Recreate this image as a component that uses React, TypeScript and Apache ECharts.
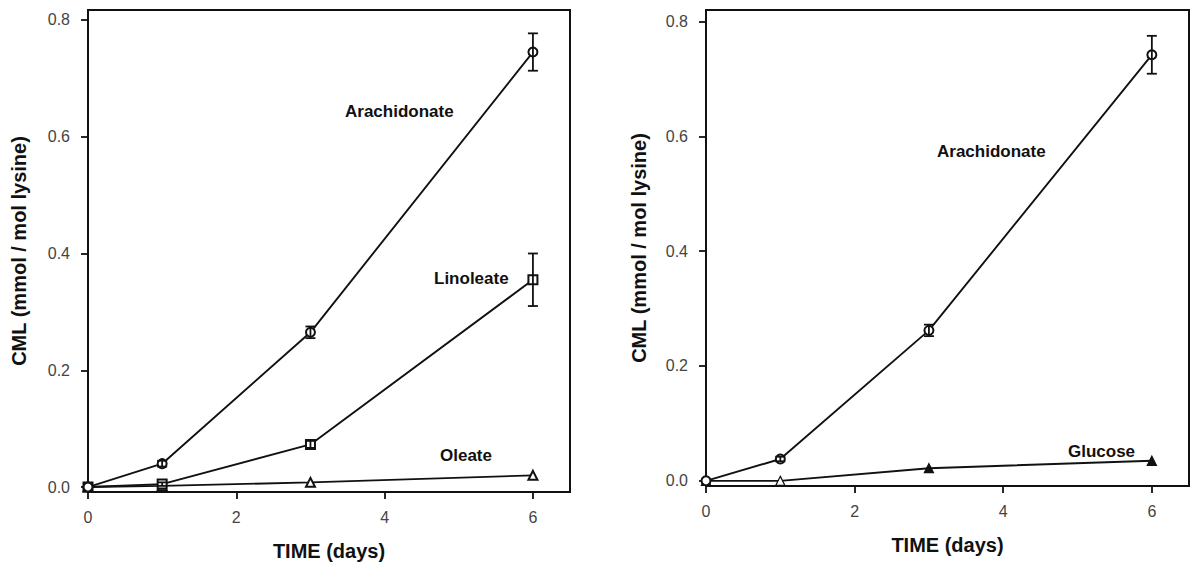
import React, { useEffect, useRef } from "react";
import * as echarts from "echarts";

const days = [0, 1, 3, 6];
const xTicks = [0, 2, 4, 6];
const yTicks = [0, 0.2, 0.4, 0.6, 0.8];

const leftArach = [0, 0.04, 0.265, 0.745];
const leftArachErr = [0, 0.005, 0.01, 0.032];
const leftLino = [0, 0.005, 0.073, 0.355];
const leftLinoErr = [0, 0.003, 0.006, 0.045];
const leftOle = [0, 0.002, 0.008, 0.02];

const rightArach = [0, 0.038, 0.262, 0.742];
const rightArachErr = [0, 0.004, 0.01, 0.033];
const rightGluc = [0, 0, 0.022, 0.035];
const rightGlucFilled = [true, false, true, true];

const FONT = "Liberation Sans, Arial, sans-serif";

function pts(ys: number[]) {
  return days.map((d, i) => [d, ys[i]]);
}

function errSeries(idx: number, ys: number[], errs: number[]) {
  return {
    type: "custom",
    xAxisIndex: idx,
    yAxisIndex: idx,
    z: 5,
    data: days.map((d, i) => [d, ys[i], errs[i]]),
    renderItem: (params: any, api: any) => {
      const x = api.value(0);
      const y = api.value(1);
      const e = api.value(2);
      if (!e) return null;
      const top = api.coord([x, y + e]);
      const bot = api.coord([x, y - e]);
      const cap = 5;
      const st = { stroke: "#111", lineWidth: 1.8 };
      return {
        type: "group",
        children: [
          { type: "line", shape: { x1: top[0], y1: top[1], x2: bot[0], y2: bot[1] }, style: st },
          { type: "line", shape: { x1: top[0] - cap, y1: top[1], x2: top[0] + cap, y2: top[1] }, style: st },
          { type: "line", shape: { x1: bot[0] - cap, y1: bot[1], x2: bot[0] + cap, y2: bot[1] }, style: st },
        ],
      };
    },
  };
}

function lineSeries(idx: number, ys: number[], symbol: string, name: string) {
  return {
    type: "line",
    name,
    xAxisIndex: idx,
    yAxisIndex: idx,
    data: pts(ys),
    symbol,
    symbolSize: 9,
    showAllSymbol: true,
    lineStyle: { color: "#111", width: 1.9 },
    itemStyle: { color: "#111", borderColor: "#111", borderWidth: 1.3 },
    z: 3,
  };
}

function xAxis(gi: number) {
  return {
    type: "value",
    gridIndex: gi,
    min: 0,
    max: 6.5,
    name: "TIME (days)",
    nameLocation: "middle",
    nameGap: 49,
    nameTextStyle: { fontFamily: FONT, fontWeight: "bold", fontSize: 20, color: "#111" },
    axisLine: { show: true, onZero: false, lineStyle: { color: "#111", width: 2 } },
    axisTick: { show: true, length: 7, lineStyle: { color: "#111", width: 1.8 }, customValues: xTicks },
    axisLabel: { fontFamily: FONT, fontSize: 16, color: "#444", margin: 17, customValues: xTicks },
    splitLine: { show: false },
  };
}

function yAxis(gi: number, min: number, max: number, gap: number) {
  return {
    type: "value",
    gridIndex: gi,
    min,
    max,
    name: "CML (mmol / mol lysine)",
    nameLocation: "middle",
    nameGap: gap,
    nameTextStyle: { fontFamily: FONT, fontWeight: "bold", fontSize: 20, color: "#111" },
    axisLine: { show: true, onZero: false, lineStyle: { color: "#111", width: 2 } },
    axisTick: { show: true, length: 7, lineStyle: { color: "#111", width: 1.8 }, customValues: yTicks },
    axisLabel: {
      fontFamily: FONT,
      fontSize: 16,
      color: "#444",
      margin: 18,
      customValues: yTicks,
      formatter: (v: number) => v.toFixed(1),
    },
    splitLine: { show: false },
  };
}

export default function App() {
  const ref = useRef<HTMLDivElement>(null);
  useEffect(() => {
    if (!ref.current) return;
    const chart = echarts.init(ref.current, null, { renderer: "svg" });
    const glucData = days.map((d, i) => ({
      value: [d, rightGluc[i]],
      itemStyle: { color: rightGlucFilled[i] ? "#111" : "#fff" },
    }));
    const labelStyle = {
      fontFamily: FONT,
      fontWeight: "bold",
      fontSize: 17,
      fill: "#111",
      align: "left",
      verticalAlign: "middle",
    };
    chart.setOption({
      animation: false,
      backgroundColor: "#fff",
      grid: [
        { left: 88, top: 10, width: 482, height: 483, show: true, borderColor: "#111", borderWidth: 2, backgroundColor: "transparent" },
        { left: 706, top: 10, width: 483, height: 476, show: true, borderColor: "#111", borderWidth: 2, backgroundColor: "transparent" },
      ],
      xAxis: [xAxis(0), xAxis(1)],
      yAxis: [yAxis(0, -0.0085, 0.817, 59), yAxis(1, -0.009, 0.82, 57)],
      series: [
        lineSeries(0, leftOle, "emptyTriangle", "Oleate"),
        lineSeries(0, leftLino, "emptyRect", "Linoleate"),
        lineSeries(0, leftArach, "emptyCircle", "Arachidonate"),
        errSeries(0, leftLino, leftLinoErr),
        errSeries(0, leftArach, leftArachErr),
        { ...lineSeries(1, rightGluc, "triangle", "Glucose"), data: glucData },
        lineSeries(1, rightArach, "emptyCircle", "Arachidonate"),
        errSeries(1, rightArach, rightArachErr),
      ],
      graphic: [
        { type: "text", x: 345, y: 111, style: { ...labelStyle, text: "Arachidonate" } },
        { type: "text", x: 434, y: 278, style: { ...labelStyle, text: "Linoleate" } },
        { type: "text", x: 440, y: 455, style: { ...labelStyle, text: "Oleate" } },
        { type: "text", x: 937, y: 151, style: { ...labelStyle, text: "Arachidonate" } },
        { type: "text", x: 1068, y: 451, style: { ...labelStyle, text: "Glucose" } },
      ],
    });
    return () => chart.dispose();
  }, []);
  return (
    <div
      ref={ref}
      style={{ position: "absolute", left: 0, top: 0, width: 1190, height: 566 }}
    />
  );
}
